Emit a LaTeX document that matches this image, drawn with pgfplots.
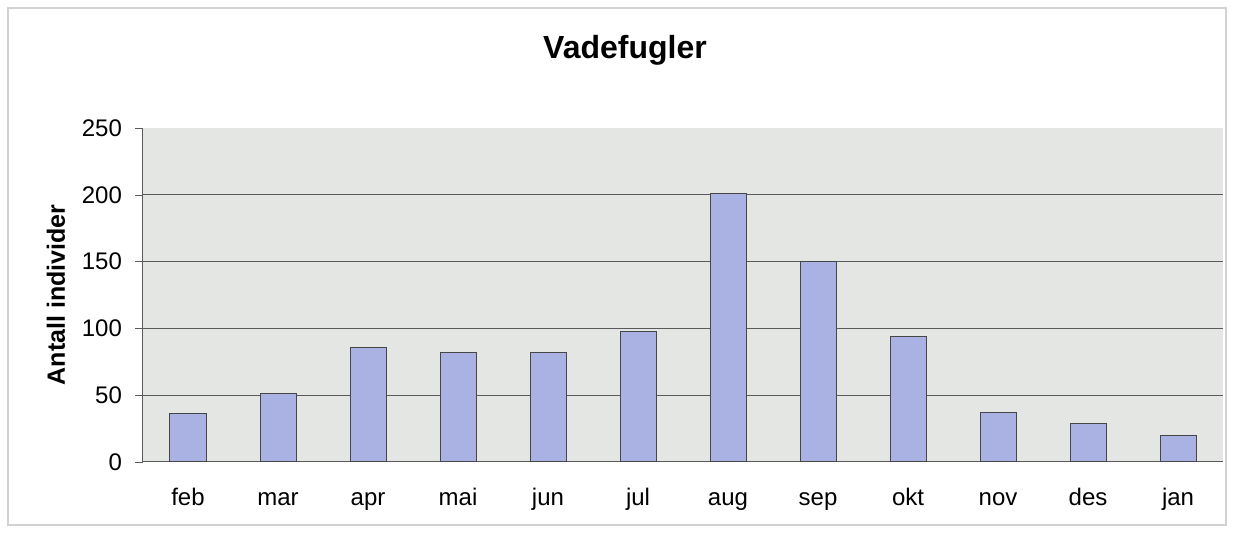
\documentclass[border=0pt]{standalone}
\usepackage{pgfplots}
\pgfplotsset{compat=1.18}
\usepackage{fontspec}
\setmainfont{Liberation Sans}
\definecolor{plotbg}{HTML}{E4E6E4}
\definecolor{barfill}{HTML}{AAB2E3}
\definecolor{gridc}{HTML}{5A5A5A}
\begin{document}
\begin{tikzpicture}
\path[use as bounding box] (-71.5pt,-35.5pt) rectangle (545.5pt,231pt);
\draw[gray!35, line width=0.6pt] (-67.5pt,-31.5pt) rectangle (541.5pt,227pt);
\begin{axis}[
  at={(0,0)}, anchor=south west,
  scale only axis, width=540pt, height=167pt,
  xmin=-0.5, xmax=11.5, ymin=0, ymax=250,
  axis background/.style={fill=plotbg},
  axis x line*=bottom, axis y line*=left,
  axis line style={gray!70!black, -, line width=0.5pt},
  xtick={0,...,11},
  xticklabels={feb,mar,apr,mai,jun,jul,aug,sep,okt,nov,des,jan},
  x tick style={draw=none},
  extra x ticks={-0.5,0.5,...,11.5},
  extra x tick labels={},
  extra x tick style={tick style={draw=gray!70!black}, major tick length=4pt, tick align=outside},
  ytick={0,50,...,250},
  y tick style={draw=gray!70!black},
  major tick length=4pt, tick align=outside,
  extra y ticks={50,100,150,200},
  extra y tick labels={},
  extra y tick style={grid=major, major tick length=0pt},
  grid style={gridc, line width=0.6pt},
  /pgf/number format/assume math mode=true,
  tick label style={font=\fontsize{12}{14}\selectfont},
  xticklabel style={text height=9pt, text depth=2.5pt, yshift=-5pt},
  yticklabel style={xshift=-3pt},
  ylabel={\textbf{Antall individer}},
  ylabel shift=-2.5pt,
  ylabel style={font=\fontsize{12.5}{15}\selectfont},
]
\addplot[ybar, bar width=18pt, fill=barfill, draw=gray!55!black, line width=0.5pt]
  coordinates {(0,36) (1,51) (2,86) (3,82) (4,82) (5,98) (6,201) (7,150) (8,94) (9,37) (10,29) (11,20)};
\end{axis}
\node[font=\fontsize{16}{19}\selectfont\bfseries] at (241pt,206pt) {Vadefugler};
\end{tikzpicture}
\end{document}
